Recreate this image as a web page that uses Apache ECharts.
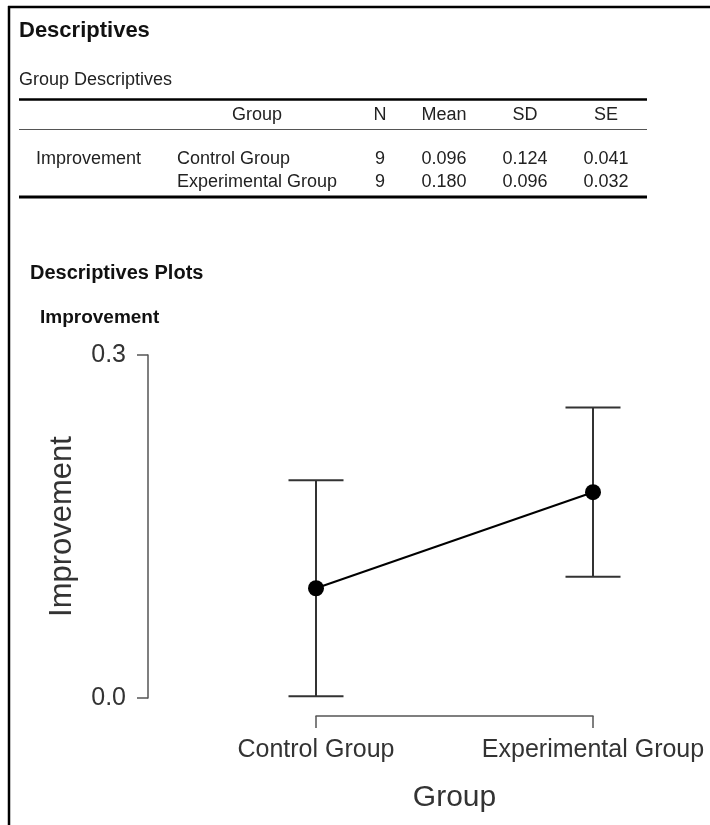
<!DOCTYPE html>
<html>
<head>
<meta charset="utf-8">
<title>Descriptives</title>
<script src="https://cdn.jsdelivr.net/npm/echarts@6/dist/echarts.min.js"></script>
<style>
  html, body { margin: 0; padding: 0; background: #ffffff; }
  #chart { width: 710px; height: 825px; }
</style>
</head>
<body>
<div id="chart"></div>
<script>
// Group descriptives for the Improvement score
const groups = ['Control Group', 'Experimental Group'];
const nValues = [9, 9];
const means = [0.096, 0.180];
const sds = [0.124, 0.096];
const ses = [0.041, 0.032];
// 95% confidence interval bounds for each group mean
const ciLower = [0.0015, 0.106];
const ciUpper = [0.1905, 0.254];
// Y axis ticks
const yTicks = [0.0, 0.3];

const FONT = '"Liberation Sans", Arial, sans-serif';
const chart = echarts.init(document.getElementById('chart'), null, { renderer: 'canvas' });

// Table cells built from the arrays above
const tableText = [];
function cell(text, x, y, align, opts) {
  tableText.push({
    type: 'text', x: x, y: y, silent: true,
    style: Object.assign({
      text: text, fill: '#222', font: '18px ' + FONT,
      textAlign: align, textVerticalAlign: 'middle'
    }, opts || {})
  });
}
const colN = 380, colMean = 444, colSD = 525, colSE = 606;
cell('Group', 257, 115, 'center');
cell('N', colN, 115, 'center');
cell('Mean', colMean, 115, 'center');
cell('SD', colSD, 115, 'center');
cell('SE', colSE, 115, 'center');
const rowY = [159, 182];
cell('Improvement', 36, rowY[0], 'left');
groups.forEach(function (g, i) {
  cell(g, 177, rowY[i], 'left');
  cell(String(nValues[i]), colN, rowY[i], 'center');
  cell(means[i].toFixed(3), colMean, rowY[i], 'center');
  cell(sds[i].toFixed(3), colSD, rowY[i], 'center');
  cell(ses[i].toFixed(3), colSE, rowY[i], 'center');
});

function hline(x1, x2, y, w, color) {
  return { type: 'line', silent: true,
    shape: { x1: x1, y1: y, x2: x2, y2: y },
    style: { stroke: color || '#000', lineWidth: w } };
}

const option = {
  backgroundColor: '#ffffff',
  animation: false,
  graphic: [
    // panel frame
    hline(8, 710, 7, 2.5, '#000'),
    { type: 'line', silent: true, shape: { x1: 9, y1: 6, x2: 9, y2: 825 },
      style: { stroke: '#000', lineWidth: 2.5 } },
    { type: 'text', x: 19, y: 31, silent: true,
      style: { text: 'Descriptives', font: 'bold 22px ' + FONT, fill: '#111', textVerticalAlign: 'middle' } },
    { type: 'text', x: 19, y: 80, silent: true,
      style: { text: 'Group Descriptives', font: '18px ' + FONT, fill: '#222', textVerticalAlign: 'middle' } },
    hline(19, 647, 99.5, 2.5),
    hline(19, 647, 129.5, 1, '#555'),
    hline(19, 647, 197, 3),
    { type: 'text', x: 30, y: 273, silent: true,
      style: { text: 'Descriptives Plots', font: 'bold 20px ' + FONT, fill: '#111', textVerticalAlign: 'middle' } },
    { type: 'text', x: 40, y: 318, silent: true,
      style: { text: 'Improvement', font: 'bold 19px ' + FONT, fill: '#111', textVerticalAlign: 'middle' } }
  ].concat(tableText),
  grid: { left: 316, right: 117, top: 355, bottom: 127, containLabel: false },
  xAxis: {
    type: 'category',
    data: groups,
    boundaryGap: false,
    offset: 18,
    axisLine: { onZero: false, lineStyle: { color: '#555', width: 1.5 } },
    axisTick: { show: true, length: 12, lineStyle: { color: '#555', width: 1.5 } },
    axisLabel: { fontSize: 25, color: '#333', fontFamily: FONT, margin: 22, interval: 0 },
    splitLine: { show: false },
    name: 'Group',
    nameLocation: 'middle',
    nameGap: 67,
    nameTextStyle: { fontSize: 30, color: '#333', fontFamily: FONT }
  },
  yAxis: {
    type: 'value',
    min: yTicks[0],
    max: yTicks[yTicks.length - 1],
    interval: yTicks[1] - yTicks[0],
    offset: 168,
    axisLine: { show: true, lineStyle: { color: '#555', width: 1.5 } },
    axisTick: { show: true, length: 11, lineStyle: { color: '#555', width: 1.5 } },
    axisLabel: { fontSize: 25, color: '#333', fontFamily: FONT, margin: 22,
      formatter: function (v) { return v.toFixed(1); } },
    splitLine: { show: false },
    name: 'Improvement',
    nameLocation: 'middle',
    nameGap: 70,
    nameTextStyle: { fontSize: 31, color: '#333', fontFamily: FONT }
  },
  series: [
    {
      type: 'custom',
      z: 1,
      data: groups.map(function (g, i) { return [i, ciLower[i], ciUpper[i]]; }),
      renderItem: function (params, api) {
        const x = api.value(0);
        const lo = api.coord([x, api.value(1)]);
        const hi = api.coord([x, api.value(2)]);
        const half = 27.5;
        const st = { stroke: '#333', lineWidth: 2 };
        return {
          type: 'group',
          children: [
            { type: 'line', shape: { x1: lo[0], y1: lo[1], x2: hi[0], y2: hi[1] }, style: st },
            { type: 'line', shape: { x1: lo[0] - half, y1: lo[1], x2: lo[0] + half, y2: lo[1] }, style: st },
            { type: 'line', shape: { x1: hi[0] - half, y1: hi[1], x2: hi[0] + half, y2: hi[1] }, style: st }
          ]
        };
      }
    },
    {
      type: 'line',
      z: 3,
      data: means,
      symbol: 'circle',
      symbolSize: 16,
      lineStyle: { color: '#000', width: 2 },
      itemStyle: { color: '#000' }
    }
  ]
};
chart.setOption(option);
</script>
</body>
</html>
